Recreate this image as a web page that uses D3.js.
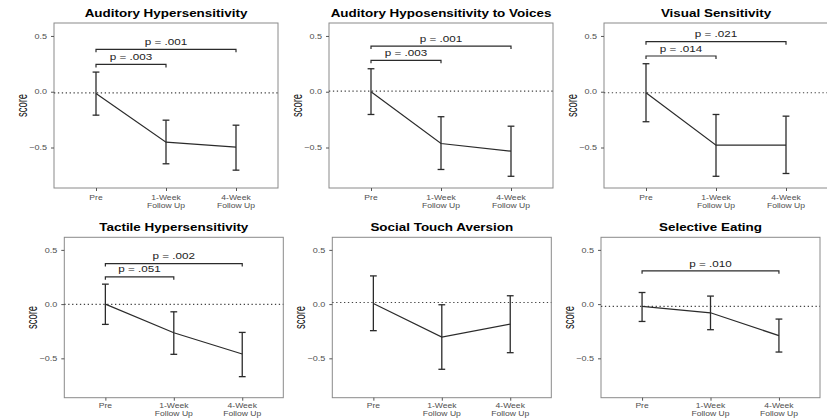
<!DOCTYPE html>
<html>
<head>
<meta charset="utf-8">
<script src="https://cdn.jsdelivr.net/npm/d3@7"></script>
<style>
html,body{margin:0;padding:0;background:#fff;}
svg{display:block;font-family:"Liberation Sans",Arial,sans-serif;}
</style>
</head>
<body>
<svg id="chart" width="827" height="418"></svg>
<script>
// ---- data ----
const categories = ["Pre", "1-Week\nFollow Up", "4-Week\nFollow Up"];
const panelTitles = ["Auditory Hypersensitivity", "Auditory Hyposensitivity to Voices", "Visual Sensitivity",
                     "Tactile Hypersensitivity", "Social Touch Aversion", "Selective Eating"];
const yTicks = [0.5, 0.0, -0.5];
const meanValues = [
  [-0.015, -0.452, -0.497],
  [0.000, -0.464, -0.533],
  [-0.009, -0.479, -0.479],
  [0.000, -0.264, -0.460],
  [0.006, -0.304, -0.184],
  [-0.021, -0.080, -0.291]
];
const upperValues = [
  [0.176, -0.255, -0.300],
  [0.206, -0.224, -0.309],
  [0.251, -0.204, -0.219],
  [0.184, -0.071, -0.261],
  [0.260, -0.006, 0.077],
  [0.107, 0.074, -0.138]
];
const lowerValues = [
  [-0.210, -0.646, -0.703],
  [-0.204, -0.697, -0.758],
  [-0.269, -0.758, -0.733],
  [-0.187, -0.463, -0.669],
  [-0.245, -0.601, -0.448],
  [-0.160, -0.236, -0.442]
];
const refLineValues = [-0.01, 0.005, -0.009, -0.003, 0.015, -0.021];
const comparisons = [
  [{from: 0, to: 1, y: 0.245, label: "p = .003"}, {from: 0, to: 2, y: 0.380, label: "p = .001"}],
  [{from: 0, to: 1, y: 0.281, label: "p = .003"}, {from: 0, to: 2, y: 0.409, label: "p = .001"}],
  [{from: 0, to: 1, y: 0.320, label: "p = .014"}, {from: 0, to: 2, y: 0.449, label: "p = .021"}],
  [{from: 0, to: 1, y: 0.252, label: "p = .051"}, {from: 0, to: 2, y: 0.374, label: "p = .002"}],
  [],
  [{from: 0, to: 2, y: 0.307, label: "p = .010"}]
];

// ---- layout ----
const SX = 1.19; // horizontal stretch of the original figure
const rows = [
  {y0: 23, y1: 188, lefts: [54, 329, 604], width: 224, lab1: 11.8, lab2: 20.0},
  {y0: 237.3, y1: 397.7, lefts: [64.3, 332.3, 601], width: 219, lab1: 10.4, lab2: 18.6}
];
const yDomain = [-0.863, 0.616];
const ink = "#2b2b2b";

const svg = d3.select("#chart");

function stretchedText(g, x, y, txt, opts) {
  const t = g.append("text")
    .attr("transform", `translate(${x},${y}) scale(${opts.sx || SX},1)` + (opts.rotate ? ` rotate(${opts.rotate})` : ""))
    .attr("text-anchor", opts.anchor || "middle")
    .attr("font-size", opts.size)
    .attr("fill", opts.fill || "#000")
    .text(txt);
  if (opts.weight) t.attr("font-weight", opts.weight);
  if (opts.baseline) t.attr("dominant-baseline", opts.baseline);
  return t;
}

panelTitles.forEach((title, i) => {
  const row = rows[Math.floor(i / 3)];
  const left = row.lefts[i % 3];
  const right = left + row.width;
  const g = svg.append("g");

  const x = d3.scalePoint().domain(categories).range([left, right]).padding(0.6);
  const y = d3.scaleLinear().domain(yDomain).range([row.y1, row.y0]);

  // panel box
  g.append("rect").attr("x", left).attr("y", row.y0)
    .attr("width", row.width).attr("height", row.y1 - row.y0)
    .attr("fill", "#fff").attr("stroke", "#8a8a8a").attr("stroke-width", 1);

  // y axis
  const yAxis = d3.axisLeft(y).tickValues(yTicks).tickSize(3).tickPadding(2).tickFormat(d3.format(".1f"));
  const ya = g.append("g").attr("transform", `translate(${left},0)`).call(yAxis);
  ya.select(".domain").remove();
  ya.selectAll(".tick line").attr("stroke", "#555");
  ya.selectAll(".tick text").remove();
  yTicks.forEach(v => {
    stretchedText(g, left - 7, y(v), d3.format(".1f")(v),
      {size: 7.6, anchor: "end", fill: "#4d4d4d", baseline: "central"});
  });

  // x axis
  const xAxis = d3.axisBottom(x).tickSize(3).tickFormat("");
  const xa = g.append("g").attr("transform", `translate(0,${row.y1})`).call(xAxis);
  xa.select(".domain").remove();
  xa.selectAll(".tick line").attr("stroke", "#555");
  categories.forEach(c => {
    const lines = c.split("\n");
    lines.forEach((ln, k) => {
      stretchedText(g, x(c), row.y1 + (k === 0 ? row.lab1 : row.lab2), ln,
        {size: 7.2, fill: "#4d4d4d"});
    });
  });

  // y label
  stretchedText(g, left - 32, (row.y0 + row.y1) / 2, "score",
    {size: 9.5, rotate: -90, sx: 1.45, fill: "#111", baseline: "central"});

  // title
  stretchedText(g, (left + right) / 2, row.y0 - 6.3, title, {size: 11.3, weight: "bold"});

  // dotted reference line
  g.append("line").attr("x1", left).attr("x2", right)
    .attr("y1", y(refLineValues[i])).attr("y2", y(refLineValues[i]))
    .attr("stroke", "#444").attr("stroke-width", 1.2).attr("stroke-dasharray", "1.3,2.6");

  // mean line
  const pts = categories.map((c, k) => ({c, m: meanValues[i][k], u: upperValues[i][k], l: lowerValues[i][k]}));
  g.append("path").datum(pts)
    .attr("d", d3.line().x(d => x(d.c)).y(d => y(d.m)))
    .attr("fill", "none").attr("stroke", ink).attr("stroke-width", 1.2);

  // error bars
  const cap = 3.4;
  const eb = g.selectAll(".eb").data(pts).enter().append("g");
  eb.append("line").attr("x1", d => x(d.c)).attr("x2", d => x(d.c))
    .attr("y1", d => y(d.u)).attr("y2", d => y(d.l))
    .attr("stroke", ink).attr("stroke-width", 1.3);
  eb.append("line").attr("x1", d => x(d.c) - cap).attr("x2", d => x(d.c) + cap)
    .attr("y1", d => y(d.u)).attr("y2", d => y(d.u))
    .attr("stroke", ink).attr("stroke-width", 1.3);
  eb.append("line").attr("x1", d => x(d.c) - cap).attr("x2", d => x(d.c) + cap)
    .attr("y1", d => y(d.l)).attr("y2", d => y(d.l))
    .attr("stroke", ink).attr("stroke-width", 1.3);

  // significance brackets
  comparisons[i].forEach(cmp => {
    const xa1 = x(categories[cmp.from]), xa2 = x(categories[cmp.to]), yy = y(cmp.y);
    g.append("path")
      .attr("d", `M${xa1},${yy + 3}V${yy}H${xa2}V${yy + 3}`)
      .attr("fill", "none").attr("stroke", ink).attr("stroke-width", 1.2);
    stretchedText(g, (xa1 + xa2) / 2, yy - 4.3, cmp.label, {size: 9.8, fill: "#222"});
  });
});
</script>
</body>
</html>
